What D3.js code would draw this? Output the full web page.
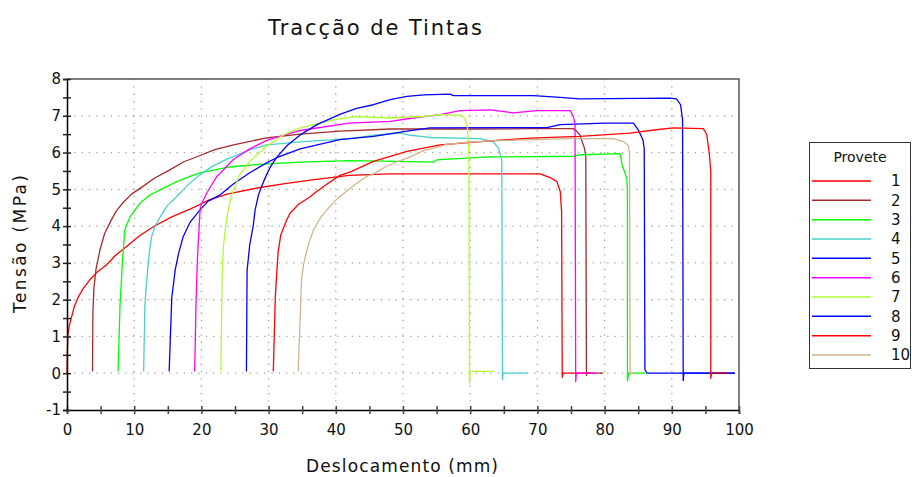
<!DOCTYPE html>
<html>
<head>
<meta charset="utf-8">
<script src="https://cdn.jsdelivr.net/npm/d3@7"></script>
<style>
  body { margin: 0; background: #fff; }
  text { font-family: "DejaVu Sans", Verdana, sans-serif; fill: #111; }
</style>
</head>
<body>
<script>
// curves: [deslocamento (mm), tensão (MPa)]
const provete1 = [[0,0],[0.05,0.6],[0.15,1.05],[0.35,1.3],[0.7,1.54],[1.1,1.82],[1.7,2.08],[2.4,2.3],[3.4,2.54],[4.5,2.75],[5.9,2.95],[7.2,3.2],[8.9,3.45],[10.8,3.74],[12.9,3.99],[15.6,4.25],[18.8,4.5],[21,4.7],[23.8,4.87],[28.7,5.05],[32.7,5.16],[36.2,5.25],[42,5.38],[48,5.42],[60,5.42],[70.4,5.42],[71.9,5.32],[72.9,5.21],[73.4,4.94],[73.6,4.4],[73.7,-0.11],[73.8,0],[78,0]];
const provete2 = [[3.8,0.05],[3.85,1.63],[4.0,2.3],[4.3,2.81],[4.9,3.35],[5.6,3.8],[6.6,4.17],[7.3,4.4],[8.3,4.63],[9.6,4.87],[11.3,5.08],[13,5.3],[15.3,5.53],[17.4,5.75],[19.8,5.92],[22,6.08],[24.8,6.21],[29.7,6.4],[34.7,6.5],[40.6,6.58],[48.1,6.64],[60,6.64],[70,6.65],[75.3,6.65],[75.8,6.59],[76.3,6.48],[77.0,6.12],[77.2,5.9],[77.3,-0.06],[77.4,0],[79.8,0]];
const provete3 = [[7.6,0.05],[7.9,1.9],[8.3,3.17],[8.6,3.9],[9.4,4.26],[10.9,4.63],[12.3,4.84],[13.9,4.99],[16,5.18],[18.3,5.35],[19.8,5.45],[23.8,5.6],[28.7,5.68],[34.7,5.74],[42,5.78],[49,5.76],[54.6,5.74],[55,5.8],[57.5,5.83],[63,5.88],[75.3,5.9],[76.3,5.94],[82.3,5.97],[82.6,5.67],[83.3,5.3],[83.4,5.0],[83.4,-0.2],[83.6,0],[86,0]];
const provete4 = [[11.4,0.05],[11.6,1.9],[12.0,2.81],[12.3,3.35],[12.6,3.72],[13.1,4.0],[13.9,4.26],[14.9,4.55],[16.3,4.8],[18,5.12],[19.8,5.4],[21.7,5.63],[23.8,5.82],[27.3,6.08],[29.7,6.21],[34.7,6.29],[42,6.38],[45.6,6.47],[49.6,6.53],[51.1,6.47],[54,6.41],[61.5,6.38],[63.4,6.3],[64.2,6.12],[64.7,5.8],[64.8,-0.18],[64.9,0],[68.6,0]];
const provete5 = [[15.2,0.05],[15.6,2.08],[15.9,2.5],[16.1,2.81],[16.6,3.25],[17.3,3.72],[18.3,4.1],[19.8,4.44],[21,4.68],[22.8,4.85],[24.8,5.15],[27.2,5.45],[29.7,5.72],[31.2,5.86],[34.7,6.1],[40.6,6.35],[45.6,6.44],[50.6,6.58],[54,6.67],[71.4,6.68],[73.4,6.76],[80,6.8],[84.3,6.8],[85,6.62],[85.7,6.35],[85.9,6.1],[86,0.1],[86.3,0],[99.4,0]];
const provete6 = [[19.0,0.05],[19.2,1.9],[19.4,3.08],[19.8,4.44],[20.0,4.6],[20.8,4.9],[22.3,5.35],[24.8,5.82],[27.2,6.1],[29.7,6.33],[34.7,6.6],[42,6.8],[48.1,6.85],[51.5,6.94],[55.5,7.03],[58.5,7.14],[63,7.16],[66.4,7.08],[69.9,7.14],[74.9,7.14],[75.3,7.0],[75.6,6.8],[75.7,-0.23],[75.8,0],[78.8,0]];
const provete7 = [[22.9,0.05],[23.1,2.8],[23.3,3.5],[23.6,4.0],[24.0,4.45],[24.5,4.85],[25.7,5.4],[27.2,5.76],[29.7,6.17],[32.2,6.48],[34.7,6.67],[39.6,6.89],[43.1,6.98],[48.1,6.94],[53.1,6.98],[55.5,7.03],[58.5,7.02],[59.2,6.94],[59.6,6.67],[59.8,6.0],[59.9,-0.27],[60.0,0.05],[63.4,0.05]];
const provete8 = [[26.7,0.05],[26.8,2.8],[27.2,3.5],[27.7,4.0],[28.0,4.45],[28.5,4.85],[29.0,5.1],[29.7,5.4],[30.3,5.62],[31.2,5.87],[32.8,6.2],[34.7,6.48],[37.2,6.76],[40.6,7.04],[43.1,7.2],[45.6,7.3],[48.1,7.44],[50.6,7.53],[53.1,7.57],[57,7.59],[57.5,7.55],[63,7.55],[69.4,7.55],[73.4,7.5],[76.3,7.46],[89.7,7.48],[90.7,7.46],[91.3,7.3],[91.6,6.9],[91.7,-0.2],[91.8,0],[99.4,0]];
const provete9 = [[30.7,0.05],[31.0,2.08],[31.4,3.27],[31.8,3.75],[32.7,4.17],[33.2,4.35],[34.5,4.6],[36.2,4.8],[36.7,4.88],[38.5,5.12],[40.6,5.38],[42.1,5.47],[45.6,5.76],[50.6,6.03],[55.5,6.21],[63,6.32],[68.9,6.39],[76.3,6.44],[83.8,6.53],[87.7,6.62],[90.2,6.67],[94.7,6.65],[95.2,6.49],[95.6,5.94],[95.8,5.49],[95.8,-0.14],[95.9,0],[98.2,0]];
const provete10 = [[34.4,0.05],[34.9,2.54],[35.2,2.95],[35.6,3.27],[36.1,3.6],[36.7,3.9],[37.8,4.25],[39.1,4.53],[40.3,4.76],[41.6,4.95],[43,5.15],[44.6,5.35],[45.6,5.42],[47.3,5.6],[49.1,5.75],[50.6,5.85],[53.1,6.05],[55.5,6.17],[56.5,6.22],[59.5,6.28],[63,6.32],[74.9,6.38],[81.3,6.38],[82.8,6.3],[83.5,6.2],[83.7,6.0],[83.8,-0.04],[83.9,0],[84.5,0]];

const legendLabels = ['1', '2', '3', '4', '5', '6', '7', '8', '9', '10'];
const xTicks = [0, 10, 20, 30, 40, 50, 60, 70, 80, 90, 100];
const yTicks = [-1, 0, 1, 2, 3, 4, 5, 6, 7, 8];

const colors = ['#ff0000', '#a52a2a', '#00ff00', '#48d1cc', '#0000ff', '#ff00ff', '#adff2f', '#0000ff', '#ff0000', '#d2b48c'];
const curves = [provete1, provete2, provete3, provete4, provete5, provete6, provete7, provete8, provete9, provete10];

const width = 912, height = 477;
const plotLeft = 67, plotRight = 739, plotTop = 79, plotBottom = 410;

const svg = d3.select('body').append('svg')
    .attr('width', width)
    .attr('height', height);

const x = d3.scaleLinear().domain([0, 100]).range([plotLeft, plotRight]);
const y = d3.scaleLinear().domain([-1, 8]).range([plotBottom, plotTop]);

// dotted grid
svg.append('g')
    .selectAll('line')
    .data(xTicks.slice(1, -1))
    .enter().append('line')
    .attr('x1', d => x(d)).attr('x2', d => x(d))
    .attr('y1', plotTop).attr('y2', plotBottom)
    .attr('stroke', '#a8a290')
    .attr('stroke-width', 1.3)
    .attr('stroke-dasharray', '1.3,6');

svg.append('g')
    .selectAll('line')
    .data(yTicks.slice(1, -1))
    .enter().append('line')
    .attr('x1', plotLeft).attr('x2', plotRight)
    .attr('y1', d => y(d)).attr('y2', d => y(d))
    .attr('stroke', '#a8a290')
    .attr('stroke-width', 1.3)
    .attr('stroke-dasharray', '1.3,6');

// frame top / right
svg.append('path')
    .attr('d', `M${plotLeft},${plotTop}H${plotRight}V${plotBottom}`)
    .attr('fill', 'none')
    .attr('stroke', '#555')
    .attr('stroke-width', 1.5);

// curves
const line = d3.line()
    .x(d => x(d[0]))
    .y(d => y(d[1]));

svg.append('g')
    .selectAll('path')
    .data(curves)
    .enter().append('path')
    .attr('d', line)
    .attr('fill', 'none')
    .attr('stroke', (d, i) => colors[i])
    .attr('stroke-width', 1.3)
    .attr('stroke-linejoin', 'round');

// axes
const xAxis = d3.axisBottom(x)
    .tickValues(d3.range(0, 101, 5))
    .tickSize(4)
    .tickFormat(d => xTicks.includes(d) ? d : '');

const gx = svg.append('g')
    .attr('transform', `translate(0, ${plotBottom})`)
    .call(xAxis);
gx.select('.domain').attr('stroke', '#000').attr('stroke-width', 1.5);
gx.selectAll('.tick line').attr('y1', -4).attr('stroke', '#444').attr('stroke-width', 1.5);
gx.selectAll('.tick text')
    .attr('y', 14)
    .attr('dy', '0.71em')
    .style('font-size', '15px')
    .style('font-family', '"DejaVu Sans", Verdana, sans-serif')
    .attr('fill', '#111');

const yAxis = d3.axisLeft(y)
    .tickValues(d3.range(-1, 8.01, 0.5))
    .tickSize(4)
    .tickFormat(d => yTicks.includes(d) ? d : '');

const gy = svg.append('g')
    .attr('transform', `translate(${plotLeft}, 0)`)
    .call(yAxis);
gy.select('.domain').attr('stroke', '#000').attr('stroke-width', 1.5);
gy.selectAll('.tick line').attr('x1', 4).attr('stroke', '#222').attr('stroke-width', 1.5);
gy.selectAll('.tick text')
    .attr('x', -6)
    .style('font-size', '15px')
    .style('font-family', '"DejaVu Sans", Verdana, sans-serif')
    .attr('fill', '#111');

// titles
svg.append('text')
    .attr('x', 375).attr('y', 35)
    .attr('text-anchor', 'middle')
    .attr('textLength', 214)
    .attr('lengthAdjust', 'spacing')
    .style('font-size', '21px')
    .text('Tracção de Tintas');

svg.append('text')
    .attr('x', 402).attr('y', 472)
    .attr('text-anchor', 'middle')
    .attr('textLength', 192)
    .attr('lengthAdjust', 'spacing')
    .style('font-size', '17px')
    .text('Deslocamento (mm)');

svg.append('text')
    .attr('transform', 'translate(26, 244) rotate(-90)')
    .attr('text-anchor', 'middle')
    .attr('textLength', 138)
    .attr('lengthAdjust', 'spacing')
    .style('font-size', '17px')
    .text('Tensão (MPa)');

// legend
const legend = svg.append('g');
legend.append('rect')
    .attr('x', 809.5).attr('y', 142.5)
    .attr('width', 101).attr('height', 226)
    .attr('fill', '#fff')
    .attr('stroke', '#333');

legend.append('text')
    .attr('x', 860).attr('y', 162)
    .attr('text-anchor', 'middle')
    .style('font-size', '14px')
    .text('Provete');

const ly = d3.scalePoint().domain(legendLabels).range([181, 355]);

const item = legend.selectAll('.item')
    .data(legendLabels)
    .enter().append('g')
    .attr('class', 'item');

item.append('line')
    .attr('x1', 812).attr('x2', 871)
    .attr('y1', d => ly(d)).attr('y2', d => ly(d))
    .attr('stroke', (d, i) => colors[i])
    .attr('stroke-width', 1.5);

item.append('text')
    .attr('x', 891).attr('y', d => ly(d))
    .attr('dy', '0.36em')
    .style('font-size', '15px')
    .text(d => d);
</script>
</body>
</html>
